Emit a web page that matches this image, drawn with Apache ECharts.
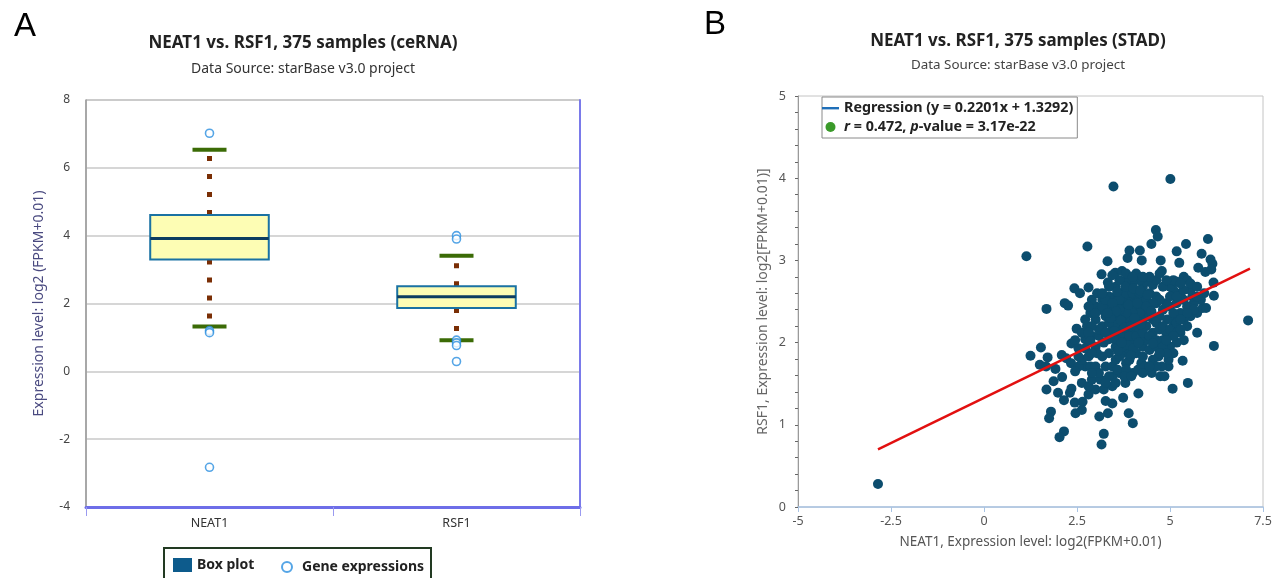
<!DOCTYPE html>
<html><head><meta charset="utf-8">
<script src="https://cdn.jsdelivr.net/npm/echarts@6/dist/echarts.min.js"></script>
<style>html,body{margin:0;padding:0;background:#fff}#c{width:1282px;height:578px}</style>
</head><body><div id="c"></div>
<script>
// ---- Panel A: box plot data ----
const boxCategories = ['NEAT1', 'RSF1'];
const boxLow    = [1.32, 0.92];
const boxQ1     = [3.30, 1.87];
const boxMedian = [3.92, 2.20];
const boxQ3     = [4.61, 2.51];
const boxHigh   = [6.53, 3.41];
const outliersNEAT1 = [7.02, 1.20, 1.14, -2.83];
const outliersRSF1  = [4.00, 3.90, 0.92, 0.84, 0.76, 0.29];

// ---- Panel B: scatter data [NEAT1, RSF1] ----
const scatterPoints = [
[1.14,3.05],[2.78,3.17],[3.48,3.90],[5.01,3.99],[7.10,2.27],[-2.85,0.28],
[4.62,3.37],[4.67,3.29],[4.50,3.20],[6.02,3.26],[5.43,3.20],[5.18,3.11],[3.91,3.12],[4.19,3.12],
[3.86,3.03],[3.32,2.99],[4.24,3.00],[4.75,3.00],[5.25,2.97],[5.85,3.08],[6.09,3.01],[6.14,2.96],
[5.76,2.91],[5.95,2.86],[6.11,2.89],[3.16,2.83],[3.53,2.85],[3.71,2.87],[4.78,2.87],[3.33,2.73],
[6.17,2.73],[6.18,2.57],[2.43,2.66],[2.58,2.60],[2.81,2.67],[1.68,2.41],[2.17,2.48],[2.26,2.45],
[5.73,2.12],[6.18,1.96],[2.49,2.17],[2.35,1.99],[1.53,1.94],[1.25,1.84],[1.71,1.82],[1.50,1.73],
[1.67,1.71],[1.92,1.68],[2.09,1.85],[2.21,1.81],[2.34,1.75],[5.34,1.78],[5.48,1.51],[5.07,1.44],
[1.68,1.43],[1.87,1.53],[2.10,1.58],[1.99,1.39],[2.15,1.30],[2.31,1.39],[2.35,1.44],[2.44,1.27],
[2.46,1.14],[2.65,1.28],[2.63,1.18],[1.80,1.16],[1.75,1.08],[2.15,0.92],[2.03,0.85],[3.22,0.89],
[3.16,0.76],[3.10,1.10],[3.33,1.14],[3.89,1.14],[4.00,1.02],[4.15,1.38],[3.74,1.33],[3.27,1.29],
[3.45,1.26],[2.81,1.37],[3.00,1.43],[3.22,1.43],[3.45,1.47],[3.80,1.51],[4.51,1.63],[4.74,1.59],
[4.85,1.59],[4.96,1.71],[4.96,1.91],[4.69,1.83],[4.42,1.71],[4.23,1.75],[4.00,1.63],[2.63,1.51],
[2.81,1.47],[2.90,1.55],[3.13,1.55],[2.72,1.71],[2.54,1.71],[2.86,1.71],[2.45,1.65],[2.63,1.79],
[2.81,1.83],[3.00,1.95],[2.90,2.08],[2.72,2.04],[2.63,2.12],[2.77,2.20],[2.72,2.28],[2.86,2.36],
[3.00,2.44],[2.90,2.52],[3.04,2.60],[3.18,2.52],[3.13,2.40],[3.27,2.32],[3.18,2.20],[3.36,2.12],
[3.09,2.08],[3.22,2.00],[3.36,1.87],[3.27,1.71],[3.45,1.71],[3.54,1.79],[3.63,1.63],[3.82,1.75],
[3.73,1.87],[3.54,1.95],[3.91,1.91],[4.09,1.87],[4.27,1.95],[4.45,1.91],[4.63,1.95],[4.81,2.03],
[4.54,2.12],[4.36,2.03],[4.18,2.03],[4.00,2.00],[3.82,2.03],[3.64,2.08],[3.45,2.16],[3.64,2.20],
[3.82,2.16],[4.00,2.12],[4.18,2.16],[4.36,2.20],[4.72,2.16],[4.90,2.12],[5.09,2.20],[5.28,2.12],
[5.37,2.03],[5.18,2.00],[5.00,1.95],[5.09,1.87],[4.96,1.79],[4.78,1.71],[4.54,1.79],[5.46,2.20],
[5.55,2.32],[5.73,2.36],[5.88,2.42],[5.97,2.42],[5.83,2.52],[5.92,2.60],[5.64,2.48],[5.46,2.44],
[5.28,2.36],[5.09,2.28],[4.92,2.28],[4.72,2.32],[4.54,2.28],[4.36,2.32],[4.18,2.28],[4.00,2.24],
[3.82,2.28],[3.64,2.32],[3.45,2.36],[3.36,2.44],[3.54,2.48],[3.73,2.44],[3.91,2.40],[4.09,2.44],
[4.27,2.40],[4.45,2.44],[4.63,2.48],[4.81,2.40],[5.00,2.44],[5.18,2.48],[5.37,2.52],[5.28,2.60],
[5.09,2.64],[5.00,2.68],[5.18,2.74],[5.37,2.80],[5.46,2.76],[5.55,2.64],[5.60,2.56],[4.81,2.68],
[4.63,2.56],[4.45,2.60],[4.27,2.68],[4.36,2.74],[4.18,2.76],[4.00,2.72],[3.82,2.76],[3.91,2.64],
[3.73,2.60],[3.54,2.56],[3.36,2.56],[4.09,2.56],[4.27,2.52],[3.91,2.52],[3.73,2.52],[3.54,2.68],
[4.09,2.84],[4.54,2.70],[4.63,2.76],[4.72,2.84],[4.45,2.80],[3.41,2.30],[3.00,2.28],[3.09,2.16],
[2.90,2.20],[3.04,1.87],[3.18,1.83],[3.36,2.04],[3.54,2.04],[3.73,2.12],[3.91,2.08],[4.09,2.08],
[4.27,2.12],[4.45,2.08],[4.63,2.03],[4.81,1.95],[4.27,1.83],[3.91,1.79],[3.73,1.95],[3.64,1.83],
[3.45,1.59],[3.59,1.67],[3.82,1.67],[4.14,1.67],[4.32,1.71],[4.63,1.71],[4.90,1.87],[4.54,1.99],
[3.91,2.28],[3.73,2.32],[3.54,2.24],[3.36,2.24],[3.27,2.12],[4.09,2.32],[4.27,2.28],[4.45,2.32],
[4.63,2.24],[4.81,2.20],[5.00,2.16],[5.18,2.12],[5.18,2.24],[5.37,2.28],[5.09,2.36],[4.90,2.48],
[4.72,2.52],[5.00,2.56],[5.18,2.56],[5.37,2.64],[5.09,2.76],[4.90,2.76],[5.28,2.72],[5.55,2.72],
[5.73,2.68],[5.73,2.56],[5.64,2.40],[5.46,2.36],[5.28,2.28],[5.28,2.16],[5.09,2.08],[4.90,2.03],
[4.72,1.87],[2.45,2.03],[2.54,1.93],[2.72,1.93],[2.90,1.87],[2.54,1.83],[3.00,1.71],[3.09,1.63],
[2.90,1.63],[3.36,1.59],[3.27,1.51],[3.54,1.51],[3.77,1.59],[3.96,1.59],[4.27,1.63],[4.45,1.71],
[3.00,2.36],[3.18,2.44],[3.27,2.52],[3.18,2.60],[3.36,2.68],[3.64,2.76],[3.45,2.82],[3.82,2.84],
[4.00,2.80],[4.27,2.80],[3.64,2.52],[3.82,2.60],[4.00,2.60],[4.18,2.60],[4.36,2.52],[4.54,2.48],
[4.36,2.44],[4.18,2.36],[4.00,2.36],[3.82,2.36],[3.64,2.40],[3.45,2.48],[2.81,2.44],[2.81,2.12],
[2.86,2.02],
[3.55,2.38],[3.68,2.27],[3.78,2.18],[3.95,2.20],[4.05,2.30],[3.88,2.46],[4.12,2.48],[4.22,2.22],
[3.48,2.05],[3.60,1.90],[3.85,1.97],[4.02,1.93],[3.95,1.84],[4.15,2.00],[3.70,2.00],[3.40,2.30],
[3.58,2.62],[3.80,2.68],[4.02,2.66],[4.20,2.63],[3.32,2.36],[3.50,2.14],[4.40,2.58],[4.50,2.38]
];
// regression line end points (y = 0.2201x + 1.3292)
const regressionLine = [[-2.85, 0.70], [7.15, 2.90]];

const FONT = 'Noto Sans';
const chart = echarts.init(document.getElementById('c'), null, {renderer: 'canvas'});

function renderBox(params, api) {
  const i = api.value(0);
  const low = api.coord([i, api.value(1)]);
  const q1 = api.coord([i, api.value(2)]);
  const med = api.coord([i, api.value(3)]);
  const q3 = api.coord([i, api.value(4)]);
  const high = api.coord([i, api.value(5)]);
  const cx = low[0];
  const bw = api.size([1, 0])[0] * 0.48;
  const capW = 34;
  const dot = {stroke: '#7a2e05', lineWidth: 5, lineDash: [5, 13], fill: null};
  return {
    type: 'group',
    children: [
      {type: 'line', shape: {x1: cx, y1: q3[1], x2: cx, y2: high[1]}, style: dot},
      {type: 'line', shape: {x1: cx, y1: q1[1], x2: cx, y2: low[1]}, style: dot},
      {type: 'rect', shape: {x: cx - bw / 2, y: q3[1], width: bw, height: q1[1] - q3[1]},
        style: {fill: '#fdfdb4', stroke: '#1a72a3', lineWidth: 2}},
      {type: 'line', shape: {x1: cx - bw / 2, y1: med[1], x2: cx + bw / 2, y2: med[1]},
        style: {stroke: '#0c3d60', lineWidth: 3}},
      {type: 'line', shape: {x1: cx - capW / 2, y1: high[1], x2: cx + capW / 2, y2: high[1]},
        style: {stroke: '#3b6b06', lineWidth: 4}},
      {type: 'line', shape: {x1: cx - capW / 2, y1: low[1], x2: cx + capW / 2, y2: low[1]},
        style: {stroke: '#3b6b06', lineWidth: 4}}
    ]
  };
}

const boxData = boxCategories.map((c, i) => [i, boxLow[i], boxQ1[i], boxMedian[i], boxQ3[i], boxHigh[i]]);
const outlierData = outliersNEAT1.map(v => [0, v]).concat(outliersRSF1.map(v => [1, v]));

const option = {
  animation: false,
  textStyle: {fontFamily: FONT},
  title: [
    {text: 'A', left: 9, top: 5, textStyle: {fontFamily: 'Liberation Sans', fontSize: 33, fontWeight: 'normal', color: '#000'}},
    {text: 'B', left: 699, top: 3, textStyle: {fontFamily: 'Liberation Sans', fontSize: 33, fontWeight: 'normal', color: '#000'}},
    {text: 'NEAT1 vs. RSF1, 375 samples (ceRNA)', subtext: 'Data Source: starBase v3.0 project',
      left: 298, textAlign: 'center', top: 30, itemGap: 10,
      textStyle: {fontFamily: FONT, fontSize: 17, fontWeight: 'bold', color: '#222'},
      subtextStyle: {fontFamily: FONT, fontSize: 14, color: '#333'}},
    {text: 'NEAT1 vs. RSF1, 375 samples (STAD)', subtext: 'Data Source: starBase v3.0 project',
      left: 1013, textAlign: 'center', top: 28, itemGap: 9,
      textStyle: {fontFamily: FONT, fontSize: 17, fontWeight: 'bold', color: '#222'},
      subtextStyle: {fontFamily: FONT, fontSize: 13.4, color: '#444'}}
  ],
  grid: [
    {left: 86, top: 100, width: 494, height: 407, show: true, borderColor: '#a8a8a8', borderWidth: 1, outerBoundsMode: 'none'},
    {left: 798, top: 96, width: 465, height: 411, show: true, borderColor: '#c4c4c4', borderWidth: 1, outerBoundsMode: 'none'}
  ],
  xAxis: [
    {type: 'category', gridIndex: 0, data: boxCategories, boundaryGap: true,
      axisLine: {onZero: false, lineStyle: {color: '#6e6ee8', width: 3}},
      axisTick: {show: true, length: 9, lineStyle: {color: '#9a9af0', width: 1}},
      axisLabel: {color: '#333', fontSize: 12.5, margin: 10, fontFamily: FONT},
      splitLine: {show: false}},
    {type: 'value', gridIndex: 1, min: -5, max: 7.5, interval: 2.5,
      axisLine: {show: true, onZero: false, lineStyle: {color: '#a9c4e4', width: 1.5}},
      axisTick: {show: true, length: 5, lineStyle: {color: '#a9c4e4'}},
      axisLabel: {color: '#555', fontSize: 12.5, margin: 8, fontFamily: FONT},
      splitLine: {show: false},
      name: 'NEAT1, Expression level: log2(FPKM+0.01)', nameLocation: 'middle', nameGap: 28,
      nameTextStyle: {color: '#555', fontSize: 13.5, fontFamily: FONT}}
  ],
  yAxis: [
    {type: 'value', gridIndex: 0, min: -4, max: 8, interval: 2,
      axisLine: {show: true, onZero: false, lineStyle: {color: '#9a9a9a', width: 1.5}},
      axisTick: {show: false},
      axisLabel: {color: '#444', fontSize: 12, margin: 16, fontFamily: FONT},
      splitLine: {show: true, lineStyle: {color: '#c8c8c8', width: 1.5}},
      name: 'Expression level: log2 (FPKM+0.01)', nameLocation: 'middle', nameGap: 40,
      nameTextStyle: {color: '#4a4a80', fontSize: 14, fontFamily: FONT}},
    {type: 'value', gridIndex: 0, min: -4, max: 8, interval: 2, position: 'right',
      axisLine: {show: true, onZero: false, lineStyle: {color: '#7a7aea', width: 2}},
      axisTick: {show: false}, axisLabel: {show: false}, splitLine: {show: false}},
    {type: 'value', gridIndex: 1, min: 0, max: 5, interval: 1,
      axisLine: {show: true, onZero: false, lineStyle: {color: '#9a9a9a', width: 1}},
      axisTick: {show: true, length: 3, lineStyle: {color: '#666'}},
      minorTick: {show: true, splitNumber: 5, length: 3, lineStyle: {color: '#666'}},
      axisLabel: {color: '#555', fontSize: 12.5, margin: 12, fontFamily: FONT},
      splitLine: {show: false},
      name: 'RSF1, Expression level: log2[FPKM+0.01)]', nameLocation: 'middle', nameGap: 28,
      nameTextStyle: {color: '#666', fontSize: 14, fontFamily: FONT}}
  ],
  legend: [
    {left: 173, top: 558, itemWidth: 19, itemHeight: 14, selectedMode: false, padding: 0,
      data: [{name: 'Box plot', icon: 'rect', itemStyle: {color: '#0d5b8c', borderWidth: 0}}],
      textStyle: {fontFamily: FONT, fontSize: 14, fontWeight: 'bold', color: '#222'}},
    {left: 281, top: 560, itemWidth: 10, itemHeight: 10, selectedMode: false, padding: 0,
      data: [{name: 'Gene expressions', icon: 'circle', itemStyle: {color: '#fff', borderColor: '#2b8fe0', borderWidth: 2}}],
      textStyle: {fontFamily: FONT, fontSize: 14, fontWeight: 'bold', color: '#222', padding: [0, 0, 0, 5]}},
    {left: 822, top: 97, orient: 'vertical', itemWidth: 17, itemHeight: 10, itemGap: 5,
      selectedMode: false, padding: [4, 4, 4, 0], borderColor: '#8a8a8a', borderWidth: 1,
      data: [
        {name: 'Regression (y = 0.2201x + 1.3292)', icon: 'path://M0,0L0,0M0,4L17,4L17,6.4L0,6.4ZM17,10L17,10',
          itemStyle: {color: '#1f6fb8', borderWidth: 0}},
        {name: 'r = 0.472, p-value = 3.17e-22', icon: 'circle', itemStyle: {color: '#3a9a2a'}}
      ],
      formatter: function (name) {
        return name.replace(/^r /, '{i|r} ').replace('p-value', '{i|p}-value');
      },
      textStyle: {fontFamily: FONT, fontSize: 14.3, fontWeight: 'bold', color: '#222',
        rich: {i: {fontStyle: 'italic', fontWeight: 'bold', fontSize: 14.3, fontFamily: FONT, color: '#222'}}}}
  ],
  graphic: [
    {type: 'rect', shape: {x: 164, y: 548, width: 267, height: 40}, style: {fill: null, stroke: '#223a22', lineWidth: 2}, z: 10}
  ],
  series: [
    {type: 'custom', name: 'Box plot', xAxisIndex: 0, yAxisIndex: 0, renderItem: renderBox,
      encode: {x: 0, y: [1, 2, 3, 4, 5]}, data: boxData, itemStyle: {color: '#0d5b8c'}, z: 2},
    {type: 'scatter', name: 'Gene expressions', xAxisIndex: 0, yAxisIndex: 0, data: outlierData,
      symbol: 'circle', symbolSize: 8, itemStyle: {color: '#fff', borderColor: '#2b8fe0', borderWidth: 1.6}, z: 3},
    {type: 'scatter', name: 'r = 0.472, p-value = 3.17e-22', xAxisIndex: 1, yAxisIndex: 2, data: scatterPoints,
      symbolSize: 10, itemStyle: {color: '#0c4d6e', opacity: 1}, z: 2},
    {type: 'line', name: 'Regression (y = 0.2201x + 1.3292)', xAxisIndex: 1, yAxisIndex: 2, data: regressionLine,
      symbol: 'none', lineStyle: {color: '#e21010', width: 2.5}, z: 4}
  ]
};
chart.setOption(option);
</script></body></html>
